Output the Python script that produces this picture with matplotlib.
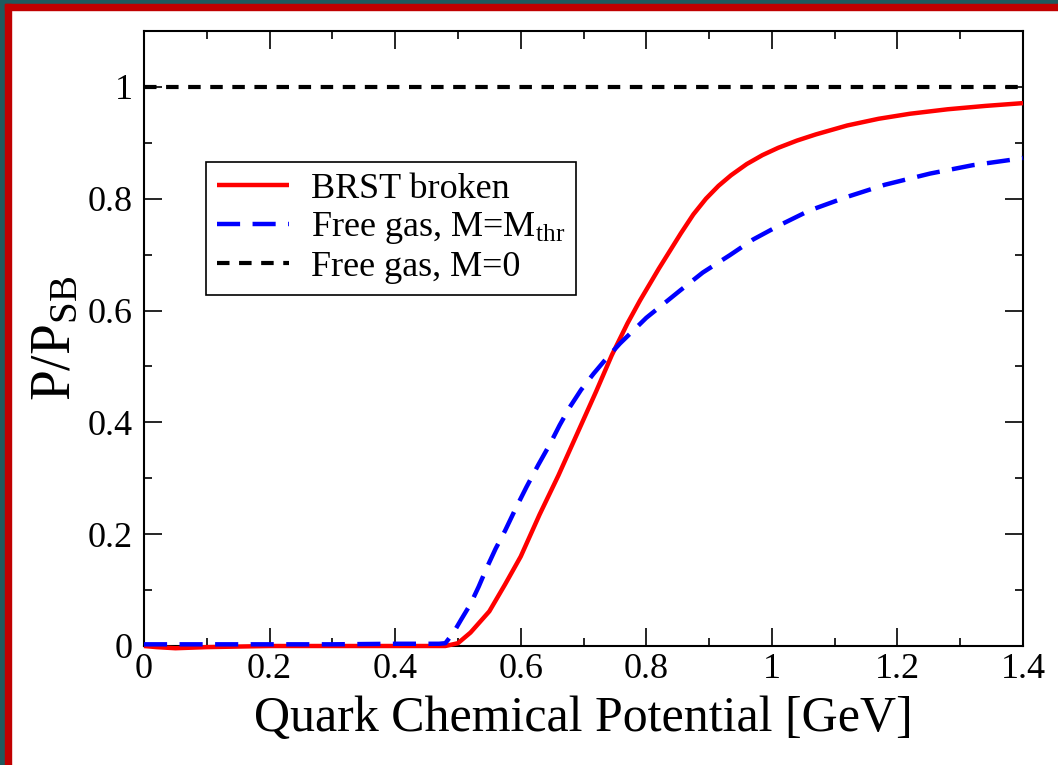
import numpy as np
import matplotlib
matplotlib.use("Agg")
import matplotlib.pyplot as plt
from matplotlib.patches import Rectangle

plt.rcParams["font.family"] = ["Liberation Serif", "DejaVu Serif"]
plt.rcParams["mathtext.fontset"] = "custom"
plt.rcParams["mathtext.rm"] = "Liberation Serif"
plt.rcParams["mathtext.it"] = "Liberation Serif:italic"

# Pressure over Stefan-Boltzmann limit vs quark chemical potential
mu_brst = [0.0, 0.02, 0.05, 0.1, 0.2, 0.3, 0.4, 0.48, 0.5, 0.52, 0.55, 0.575,
           0.6, 0.63, 0.66, 0.69, 0.72, 0.745, 0.77, 0.79, 0.82, 0.855, 0.875,
           0.895, 0.915, 0.935, 0.96, 0.985, 1.01, 1.04, 1.07, 1.12, 1.17,
           1.22, 1.28, 1.34, 1.4]
p_brst = [0.0, -0.002, -0.004, -0.002, 0.0, 0.0, 0.0, 0.0, 0.005, 0.024, 0.062,
          0.11, 0.16, 0.235, 0.305, 0.38, 0.455, 0.52, 0.577, 0.618, 0.675,
          0.738, 0.772, 0.8, 0.823, 0.842, 0.862, 0.878, 0.891, 0.904, 0.915,
          0.931, 0.943, 0.952, 0.96, 0.966, 0.971]

mu_free = [0.0, 0.1, 0.2, 0.3, 0.4, 0.47, 0.48, 0.493, 0.505, 0.52, 0.533,
           0.546, 0.56, 0.575, 0.592, 0.609, 0.628, 0.647, 0.662, 0.678, 0.696,
           0.716, 0.737, 0.758, 0.78, 0.8, 0.832, 0.854, 0.89, 0.933, 0.97,
           1.013, 1.06, 1.119, 1.18, 1.252, 1.32, 1.39, 1.4]
p_free = [0.003, 0.003, 0.003, 0.003, 0.004, 0.004, 0.005, 0.024, 0.047, 0.075,
          0.106, 0.14, 0.174, 0.206, 0.246, 0.284, 0.324, 0.362, 0.395, 0.427,
          0.458, 0.487, 0.515, 0.541, 0.565, 0.587, 0.616, 0.636, 0.668, 0.699,
          0.727, 0.753, 0.779, 0.803, 0.825, 0.845, 0.86, 0.871, 0.873]

mu_sb = [0.0, 1.4]
p_sb = [1.0, 1.0]

fig = plt.figure(figsize=(10.58, 7.65), dpi=100)
W, H = 1058, 765

# slide frame: teal outer strip, red inner strip
fig.patches.append(Rectangle((0, 0), 5 / W, 1, transform=fig.transFigure,
                             color="#1f5a5e", zorder=0))
fig.patches.append(Rectangle((0, 1 - 4 / H), 1, 4 / H, transform=fig.transFigure,
                             color="#1f5a5e", zorder=0))
fig.patches.append(Rectangle((5 / W, 0), 6 / W, 1 - 4 / H, transform=fig.transFigure,
                             color="#c00000", zorder=0))
fig.patches.append(Rectangle((5 / W, 1 - 10 / H), 1, 6 / H, transform=fig.transFigure,
                             color="#c00000", zorder=0))

ax = fig.add_axes([144 / W, 1 - 646 / H, 879 / W, 615 / H])

ax.plot(mu_brst, p_brst, color="red", lw=3.2, label="BRST broken",
        solid_capstyle="butt", solid_joinstyle="round", clip_on=False, zorder=3)
ax.plot(mu_free, p_free, color="blue", lw=3.2, dashes=(5.2, 2.8),
        label="Free gas, M=M$_{\\mathrm{thr}}$", clip_on=False, zorder=4)
ax.plot(mu_sb, p_sb, color="black", lw=3, dashes=(3, 2.3),
        label="Free gas, M=0", zorder=3)

ax.set_xlim(0, 1.4)
ax.set_ylim(0, 1.1)
ax.set_xticks(np.arange(0, 1.41, 0.2))
ax.set_xticks(np.arange(0.1, 1.4, 0.2), minor=True)
ax.set_yticks(np.arange(0, 1.01, 0.2))
ax.set_yticks(np.arange(0.1, 1.1, 0.2), minor=True)
ax.set_xticklabels(["0", "0.2", "0.4", "0.6", "0.8", "1", "1.2", "1.4"])
ax.set_yticklabels(["0", "0.2", "0.4", "0.6", "0.8", "1"])

ax.tick_params(which="both", direction="in", top=True, right=True,
               labelsize=26, width=1.2)
ax.tick_params(which="major", length=13, pad=5)
ax.tick_params(which="minor", length=6)
ax.tick_params(axis="y", pad=8)
for s in ax.spines.values():
    s.set_linewidth(1.5)

ax.set_xlabel("Quark Chemical Potential [GeV]", fontsize=36, labelpad=7)
ax.set_ylabel("P/P$_{\\mathrm{SB}}$", fontsize=40, labelpad=4)

leg = ax.legend(loc="upper left", bbox_to_anchor=(0.0705, 0.787),
                borderaxespad=0, fontsize=26, handlelength=2.0,
                handletextpad=0.6, labelspacing=0.12, borderpad=0.3,
                fancybox=False, framealpha=1)
leg.get_frame().set_edgecolor("black")
leg.get_frame().set_linewidth(1.2)

fig.savefig("out.png", dpi=100)
